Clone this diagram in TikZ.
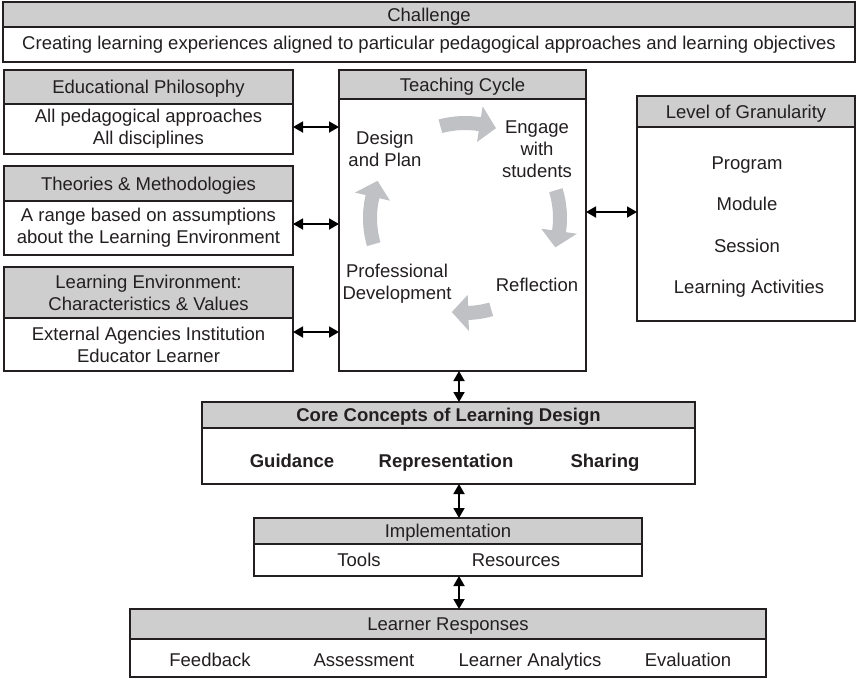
\documentclass[tikz,border=0pt]{standalone}
\usepackage{fontspec}
\setmainfont{Liberation Sans}
\usetikzlibrary{arrows.meta}

\definecolor{hdrgray}{RGB}{206,206,206}
\definecolor{cycgray}{RGB}{192,193,196}
\definecolor{ink}{RGB}{35,31,32}

% curved block arrow of the teaching cycle: #1 tail angle, #2 tip angle
\newcommand\cyclearrow[2]{%
  \pgfmathsetmacro\hb{#2+10}%
  \fill[cycgray] (#1:102) arc[start angle=#1, end angle=\hb, radius=102]
    -- (\hb:113) -- (#2:95) -- (\hb:77) -- (\hb:88)
    arc[start angle=\hb, end angle=#1, radius=88] -- cycle;}

\begin{document}
\begin{tikzpicture}[x=1pt, y=-1pt,
  every node/.style={font=\fontsize{18.5}{22}\selectfont, text=ink},
  box/.style={draw=ink, line width=1.2pt, inner sep=0pt, outer sep=0pt,
              align=center, anchor=north west},
  hdr/.style={box, fill=hdrgray},
  hdrone/.style={hdr, text height=13pt, text depth=0pt},
  bodybox/.style={box, fill=white, anchor=north},
  item/.style={inner sep=0pt, text height=13pt, text depth=0pt, anchor=center},
  cyclabel/.style={inner sep=0pt, align=center, anchor=center},
  biarr/.style={{Triangle[length=10pt,width=11pt]}-{Triangle[length=10pt,width=11pt]},
                line width=1.8pt, draw=black}]

\useasboundingbox (0,0) rectangle (858,678);

% Challenge
\node[hdrone, minimum width=852, minimum height=25] (ch-h) at (3,2) {Challenge};
\node[bodybox, minimum width=852, minimum height=35] (ch-b) at (ch-h.south)
  {Creating learning experiences aligned to particular pedagogical approaches and learning objectives};

% left column
\node[hdrone, minimum width=289, minimum height=34] (ep-h) at (4,70) {Educational Philosophy};
\node[bodybox, minimum width=289, minimum height=50] (ep-b) at (ep-h.south)
  {All pedagogical approaches\\All disciplines};

\node[hdrone, minimum width=289, minimum height=35] (tm-h) at (4,166) {Theories \& Methodologies};
\node[bodybox, minimum width=289, minimum height=54] (tm-b) at (tm-h.south)
  {A range based on assumptions\\about the Learning Environment};

\node[hdr, minimum width=289, minimum height=51] (le-h) at (4,267)
  {Learning Environment:\\Characteristics \& Values};
\node[bodybox, minimum width=289, minimum height=53] (le-b) at (le-h.south)
  {External Agencies Institution\\Educator Learner};

% teaching cycle
\node[hdrone, minimum width=247, minimum height=29] (tc-h) at (339,70) {Teaching Cycle};
\node[bodybox, minimum width=247, minimum height=272] (tc-b) at (tc-h.south) {};

\node[cyclabel] (c-design) at (385,149) {Design\\and Plan};
\node[cyclabel] (c-engage) at (537,149) {Engage\\with\\students};
\node[cyclabel] (c-reflect) at (537,285) {Reflection};
\node[cyclabel] (c-prof) at (397,284) {Professional\\Development};

\coordinate (cyc) at (465,218);
\begin{scope}[shift={(cyc)}, x=1pt, y=1pt]
  \cyclearrow{105}{71}
  \cyclearrow{17}{-18}
  \cyclearrow{-74}{-98}
  \cyclearrow{196}{157}
\end{scope}

% level of granularity
\node[hdrone, minimum width=218, minimum height=31] (gr-h) at (637,96) {Level of Granularity};
\node[bodybox, minimum width=218, minimum height=194] (gr-b) at (gr-h.south) {};
\node[item] (g1) at (747,162.5) {Program};
\node[item] (g2) at (747,204) {Module};
\node[item] (g3) at (747,245.5) {Session};
\node[item] (g4) at (749,287) {Learning Activities};

% core concepts
\node[hdrone, minimum width=493, minimum height=26, font=\fontsize{18.5}{22}\selectfont\bfseries]
  (cc-h) at (202,402) {Core Concepts of Learning Design};
\node[bodybox, minimum width=493, minimum height=56] (cc-b) at (cc-h.south) {};
\node[item, font=\fontsize{18.5}{22}\selectfont\bfseries] (k1) at (292,461) {Guidance};
\node[item, font=\fontsize{18.5}{22}\selectfont\bfseries] (k2) at (446,461) {Representation};
\node[item, font=\fontsize{18.5}{22}\selectfont\bfseries] (k3) at (605,461) {Sharing};

% implementation
\node[hdrone, minimum width=388, minimum height=26] (im-h) at (254,518) {Implementation};
\node[bodybox, minimum width=388, minimum height=32] (im-b) at (im-h.south) {};
\node[item] (i1) at (359,560) {Tools};
\node[item] (i2) at (516,560) {Resources};

% learner responses
\node[hdrone, minimum width=636, minimum height=30] (lr-h) at (130,609) {Learner Responses};
\node[bodybox, minimum width=636, minimum height=38] (lr-b) at (lr-h.south) {};
\node[item] (r1) at (210,659.5) {Feedback};
\node[item] (r2) at (364,659.5) {Assessment};
\node[item] (r3) at (530,659.5) {Learner Analytics};
\node[item] (r4) at (688,659.5) {Evaluation};

% connectors
\coordinate (a-ep) at ([yshift=2]ep-b.east);
\coordinate (a-tm) at ([yshift=4]tm-b.east);
\coordinate (a-le) at ([yshift=12.5]le-b.east);
\coordinate (a-gr) at ([yshift=12]gr-b.west);
\coordinate (spine) at (459,0);

\draw[biarr] (a-ep) -- (a-ep -| tc-b.west);
\draw[biarr] (a-tm) -- (a-tm -| tc-b.west);
\draw[biarr] (a-le) -- (a-le -| tc-b.west);
\draw[biarr] (a-gr -| tc-b.east) -- (a-gr);

\draw[biarr] (tc-b.south -| spine) -- (cc-h.north -| spine);
\draw[biarr] (cc-b.south -| spine) -- (im-h.north -| spine);
\draw[biarr] (im-b.south -| spine) -- (lr-h.north -| spine);

\end{tikzpicture}
\end{document}
